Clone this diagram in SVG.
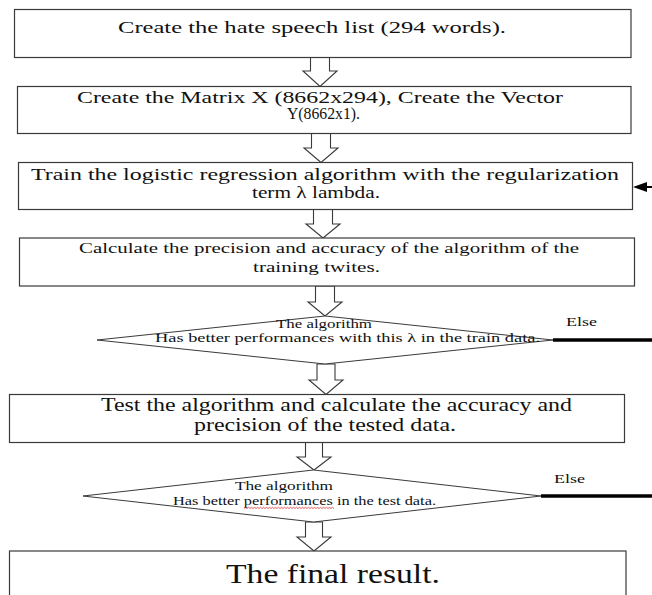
<svg xmlns="http://www.w3.org/2000/svg" width="652" height="595" viewBox="0 0 652 595">
<style>
.box{fill:#fff;stroke:#3a3a3a;stroke-width:1.2}
.dia{fill:#fff;stroke:#3a3a3a;stroke-width:1}
.arr{fill:#fff;stroke:#3a3a3a;stroke-width:1.1;stroke-linejoin:miter}
.t{font-family:"Liberation Serif","Times New Roman",serif;fill:#111}
.else{stroke:#000;stroke-width:3.5;fill:none}
.fb{stroke:#000;stroke-width:2;fill:none}
.sq{stroke:#e03030;stroke-width:0.8;fill:none}
</style>
<rect width="652" height="595" fill="#fff"/>
<g id="connectors">
<path class="arr" d="M310.5 57.5V71H303L320 86.5L337 71H329.5V57.5Z"/>
<path class="arr" d="M311.5 133.5V148H304L321 162.5L338 148H330.5V133.5Z"/>
<path class="arr" d="M313.5 209.5V224H306L323 238L340 224H332.5V209.5Z"/>
<path class="arr" d="M315.5 286V302H308L325 316L342 302H334.5V286Z"/>
<path class="arr" d="M317 364V380H309L326 394.5L343 380H335V364Z"/>
<path class="arr" d="M305.5 442.5V457H297L314 470L331 457H322.5V442.5Z"/>
<path class="arr" d="M305.5 522V537H297L314 551L331 537H322.5V522Z"/>
<line class="else" x1="553" y1="340" x2="652" y2="340"/>
<line class="else" x1="541" y1="496" x2="652" y2="496"/>
<line class="fb" x1="645" y1="187" x2="652" y2="187"/>
<polygon points="633,187 647,182 647,192" fill="#000"/>
</g>
<g id="n1">
<rect class="box" x="14.5" y="9.5" width="616.5" height="48"/>
<text class="t" x="118" y="33" font-size="16" textLength="388" lengthAdjust="spacingAndGlyphs">Create the hate speech list (294 words).</text>
</g>
<g id="n2">
<rect class="box" x="17.5" y="86.5" width="613.5" height="47"/>
<text class="t" x="77" y="103" font-size="16" textLength="486" lengthAdjust="spacingAndGlyphs">Create the Matrix X (8662x294), Create the Vector</text>
<text class="t" x="287" y="119" font-size="16" textLength="73" lengthAdjust="spacingAndGlyphs">Y(8662x1).</text>
</g>
<g id="n3">
<rect class="box" x="18.5" y="162.5" width="614" height="47"/>
<text class="t" x="31" y="180" font-size="16.5" textLength="588" lengthAdjust="spacingAndGlyphs">Train the logistic regression algorithm with the regularization</text>
<text class="t" x="252" y="197.5" font-size="16.5" textLength="128" lengthAdjust="spacingAndGlyphs">term λ lambda.</text>
</g>
<g id="n4">
<rect class="box" x="19.5" y="238" width="615" height="48"/>
<text class="t" x="79" y="253" font-size="15" textLength="500" lengthAdjust="spacingAndGlyphs">Calculate the precision and accuracy of the algorithm of the</text>
<text class="t" x="253" y="272" font-size="15" textLength="127" lengthAdjust="spacingAndGlyphs">training twites.</text>
</g>
<g id="d1">
<polygon class="dia" points="97,340 325,316 553,340 325,364"/>
<text class="t" x="276" y="328" font-size="12" textLength="96" lengthAdjust="spacingAndGlyphs">The  algorithm</text>
<text class="t" x="155" y="342" font-size="12" textLength="385" lengthAdjust="spacingAndGlyphs">Has better performances with this λ in the train data.</text>
<text class="t" x="566" y="326" font-size="13" textLength="31" lengthAdjust="spacingAndGlyphs">Else</text>
</g>
<g id="n5">
<rect class="box" x="9.5" y="394.5" width="615" height="48"/>
<text class="t" x="101" y="411" font-size="19" textLength="471" lengthAdjust="spacingAndGlyphs">Test the algorithm and calculate the accuracy and</text>
<text class="t" x="194" y="431" font-size="19" textLength="262" lengthAdjust="spacingAndGlyphs">precision of the tested data.</text>
</g>
<g id="d2">
<polygon class="dia" points="83,496 313.5,470 541,496 313.5,522"/>
<text class="t" x="235" y="490" font-size="13" textLength="98" lengthAdjust="spacingAndGlyphs">The algorithm</text>
<text class="t" x="173" y="505" font-size="13" textLength="263" lengthAdjust="spacingAndGlyphs">Has better performances in the test data.</text>
<path class="sq" d="M244 508.5l1.5-1.2l1.5 1.2l1.5-1.2l1.5 1.2l1.5-1.2l1.5 1.2l1.5-1.2l1.5 1.2l1.5-1.2l1.5 1.2l1.5-1.2l1.5 1.2l1.5-1.2l1.5 1.2l1.5-1.2l1.5 1.2l1.5-1.2l1.5 1.2l1.5-1.2l1.5 1.2l1.5-1.2l1.5 1.2l1.5-1.2l1.5 1.2l1.5-1.2l1.5 1.2l1.5-1.2l1.5 1.2l1.5-1.2l1.5 1.2l1.5-1.2l1.5 1.2l1.5-1.2l1.5 1.2l1.5-1.2l1.5 1.2l1.5-1.2l1.5 1.2l1.5-1.2l1.5 1.2l1.5-1.2l1.5 1.2l1.5-1.2l1.5 1.2l1.5-1.2l1.5 1.2l1.5-1.2l1.5 1.2l1.5-1.2l1.5 1.2l1.5-1.2l1.5 1.2l1.5-1.2l1.5 1.2l1.5-1.2l1.5 1.2l1.5-1.2l1.5 1.2l1.5-1.2l1.5 1.2"/>
<text class="t" x="554" y="483" font-size="13" textLength="31" lengthAdjust="spacingAndGlyphs">Else</text>
</g>
<g id="n6">
<rect class="box" x="9.5" y="551" width="616.5" height="60"/>
<text class="t" x="226" y="583" font-size="28" textLength="214" lengthAdjust="spacingAndGlyphs">The final result.</text>
</g>
</svg>
